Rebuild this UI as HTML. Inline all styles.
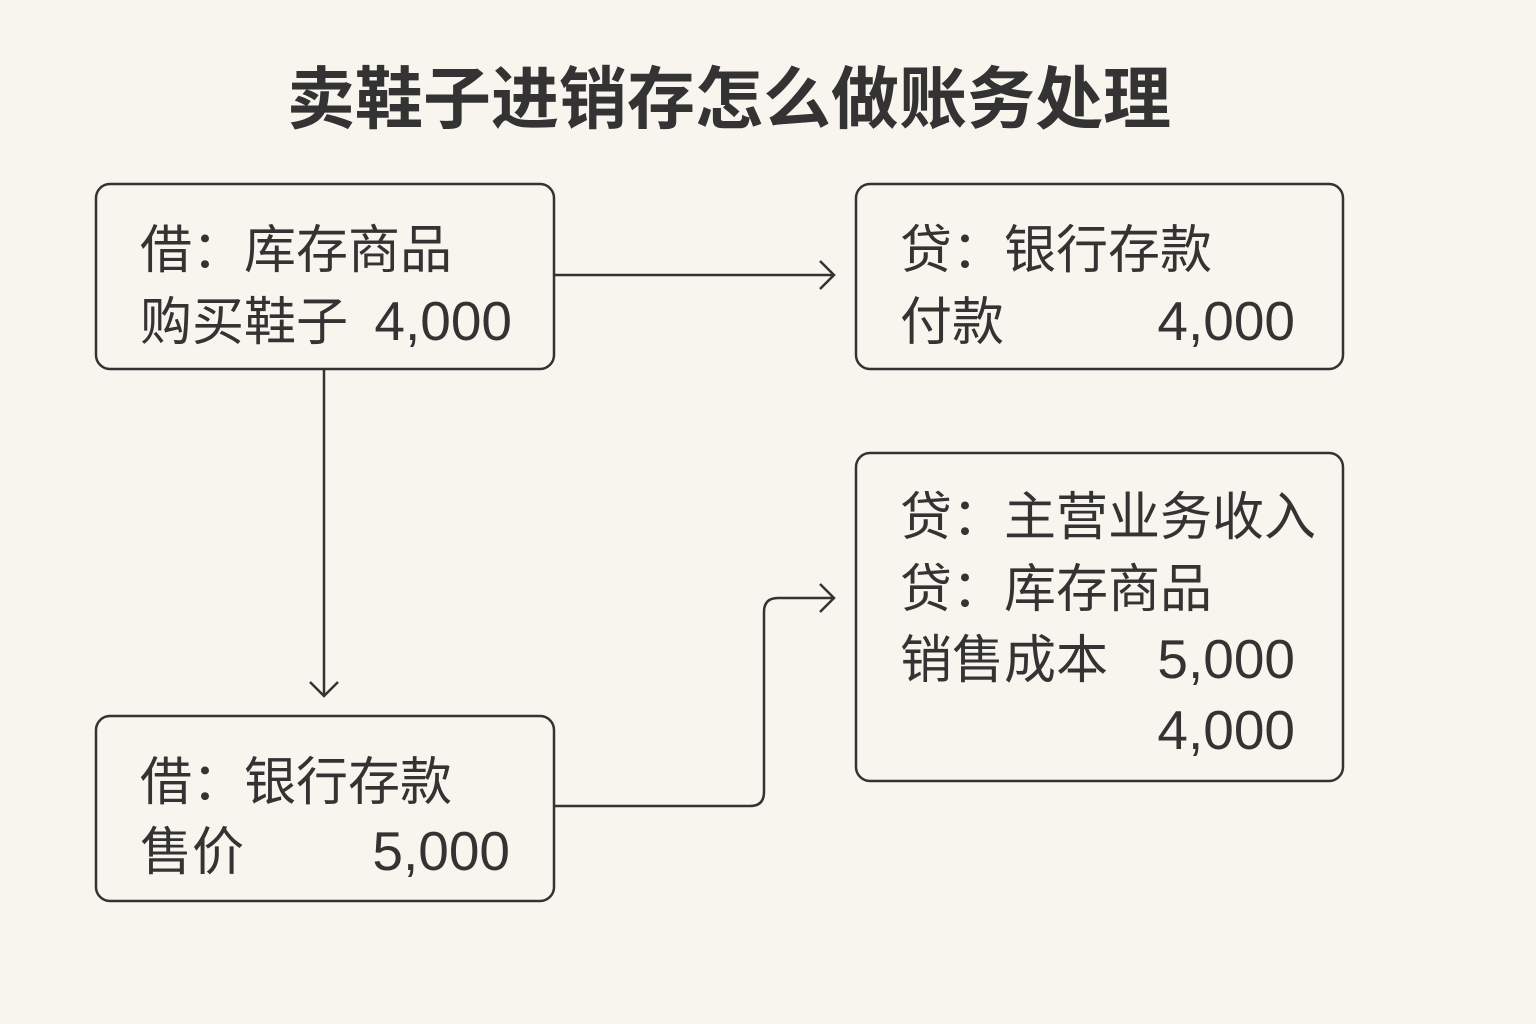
<!DOCTYPE html>
<html><head><meta charset="utf-8"><style>
html,body{margin:0;padding:0;background:#f8f5ee;}
svg{display:block}
text{font-family:"Liberation Sans","Noto Sans CJK SC",sans-serif;fill:#333;}
</style></head><body>
<svg width="1536" height="1024" viewBox="0 0 1536 1024" xmlns="http://www.w3.org/2000/svg">
<rect width="1536" height="1024" fill="#f8f5ee"/>
<text x="729" y="123" font-size="68" font-weight="bold" text-anchor="middle">卖鞋子进销存怎么做账务处理</text>
<g fill="none" stroke="#333" stroke-width="2.5">
<rect x="96" y="184" width="458" height="185" rx="14"/>
<rect x="856" y="184" width="487" height="185" rx="14"/>
<rect x="856" y="453" width="487" height="328" rx="14"/>
<rect x="96" y="716" width="458" height="185" rx="14"/>
<path d="M554 275 H834 M820 261 L834 275 L820 289"/>
<path d="M324 369 V696 M310 682 L324 696 L338 682"/>
<path d="M554 806 H750 Q764 806 764 792 V612 Q764 598 778 598 H834 M820 584 L834 598 L820 612"/>
</g>
<g font-size="52">
<text x="140" y="268">借：库存商品</text>
<text x="140" y="340">购买鞋子</text>
<text x="900" y="268">贷：银行存款</text>
<text x="900" y="340">付款</text>
<text x="900" y="535">贷：主营业务收入</text>
<text x="900" y="607">贷：库存商品</text>
<text x="900" y="678">销售成本</text>
<text x="140" y="800">借：银行存款</text>
<text x="140" y="870">售价</text>
</g>
<g font-size="55">
<text x="512" y="340" text-anchor="end">4,000</text>
<text x="1295" y="340" text-anchor="end">4,000</text>
<text x="1295" y="678" text-anchor="end">5,000</text>
<text x="1295" y="749" text-anchor="end">4,000</text>
<text x="510" y="870" text-anchor="end">5,000</text>
</g>
</svg>
</body></html>
